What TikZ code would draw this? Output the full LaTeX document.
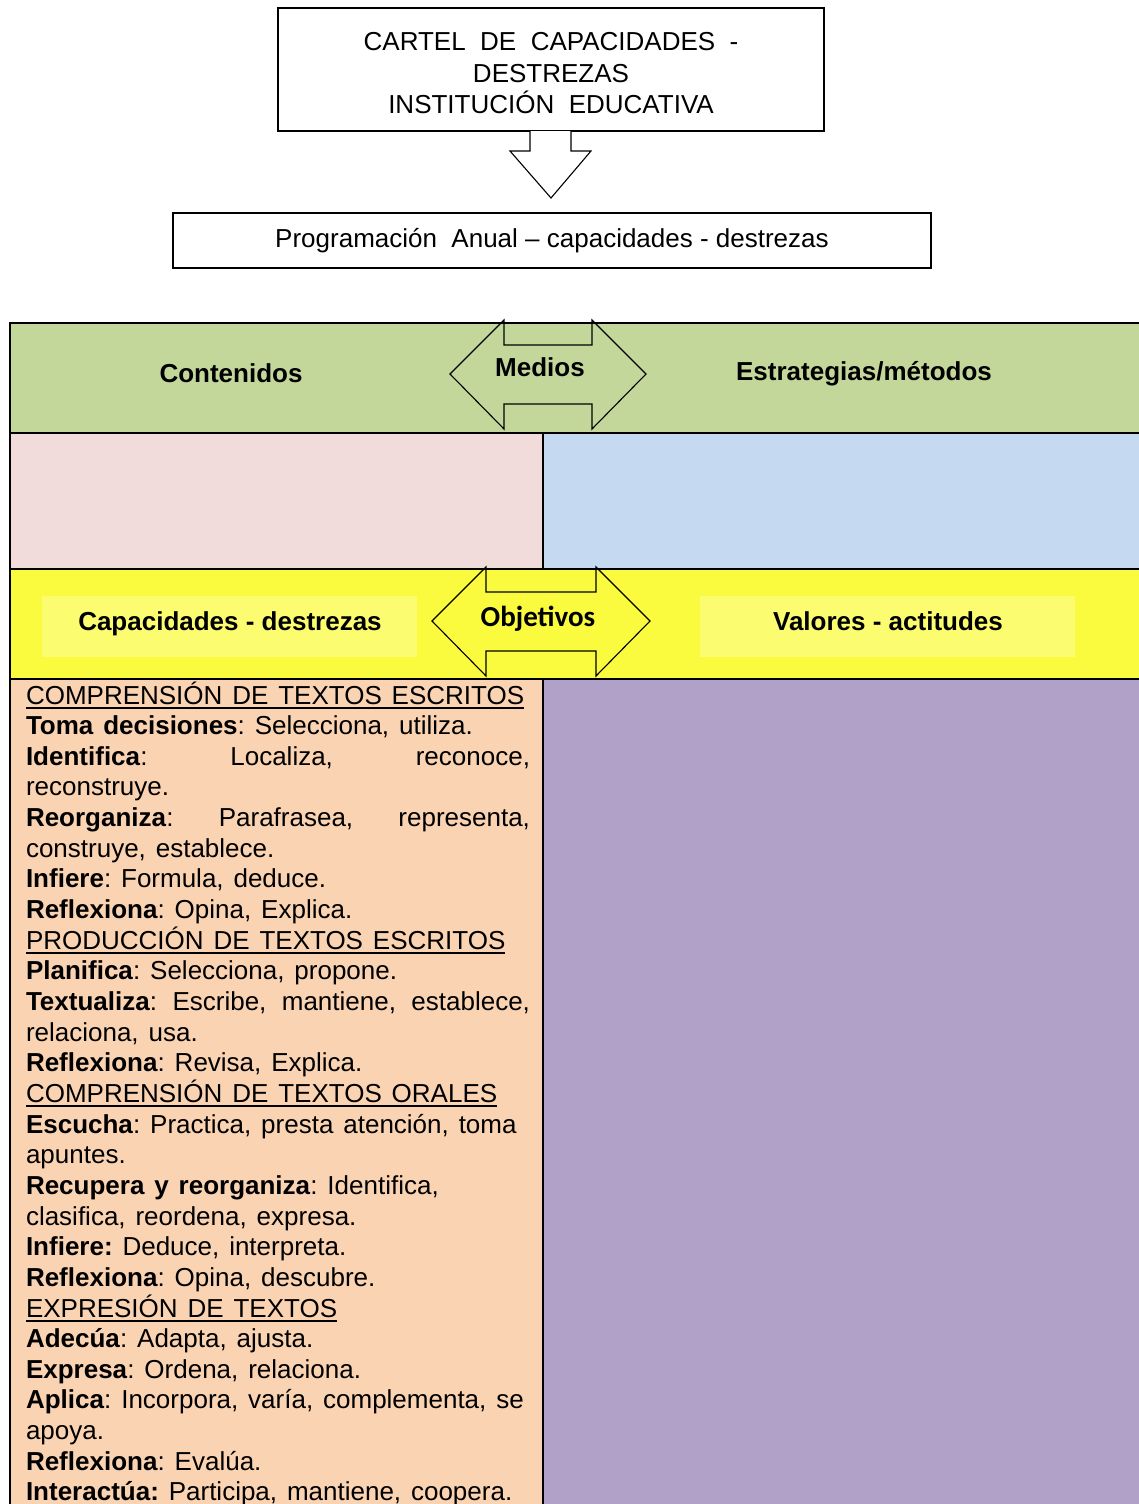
\documentclass[tikz,border=0pt]{standalone}
\usepackage{fontspec}
\setmainfont{Liberation Sans}
\newfontfamily\calfont{Carlito}
\usetikzlibrary{calc}
\definecolor{hdrgreen}{HTML}{C4D79B}
\definecolor{cellpink}{HTML}{F2DCDB}
\definecolor{cellblue}{HTML}{C5D9F1}
\definecolor{rowyellow}{HTML}{FAFA3E}
\definecolor{softyellow}{HTML}{FCFC70}
\definecolor{cellpeach}{HTML}{FAD3B2}
\definecolor{cellpurple}{HTML}{B1A0C7}
\newcommand{\myul}[1]{\leavevmode\setbox0\hbox{#1}\rlap{\rule[-4.5pt]{\wd0}{1.6pt}}\box0}
\newcommand{\jline}[1]{\makebox[504pt][s]{\spaceskip=.38em plus 1em\relax #1}}
\setlength{\parindent}{0pt}
\setlength{\parskip}{0pt}
\begin{document}
\begin{tikzpicture}[x=1pt,y=-1pt,
  txt/.style={font=\fontsize{26}{31.5}\selectfont, inner sep=0pt, outer sep=0pt},
  coltxt/.style={font=\fontsize{26}{30.65}\selectfont\frenchspacing, inner sep=0pt, outer sep=0pt},
  hdr/.style={font=\fontsize{26}{31}\selectfont\bfseries, inner sep=0pt, anchor=base},
  boxline/.style={draw=black, line width=1.4pt},
  gridline/.style={draw=black, line width=2pt},
  blockarrow/.style={draw=black, line width=1.1pt, line join=miter},
]
\useasboundingbox (0,0) rectangle (1139,1504);
\clip (0,0) rectangle (1139,1504);

% ---------- top boxes ----------
\node[boxline, minimum width=546pt, minimum height=123pt, inner sep=0pt, outer sep=0pt, anchor=north west] (cartel) at (278,8) {};
\node[txt, align=center] (carteltext) at (551,73.5) {CARTEL\ \ DE\ \ CAPACIDADES\ \ -\\DESTREZAS\\INSTITUCIÓN\ \ EDUCATIVA};
\node[boxline, minimum width=758pt, minimum height=55pt, inner sep=0pt, outer sep=0pt, anchor=north west] (prog) at (173,213) {};
\node[txt] (progtext) at (552,241) {Programación\ \ Anual -- capacidades - destrezas};

% down block arrow from cartel to prog
\draw[blockarrow, fill=white]
  ($(cartel.south)+(-21,0)$) -- ($(cartel.south)+(-21,20)$) -- ($(cartel.south)+(-41,20)$)
  -- ($(prog.north)+(-1,-15)$)
  -- ($(cartel.south)+(40,20)$) -- ($(cartel.south)+(20,20)$) -- ($(cartel.south)+(20,0)$);

% ---------- table fills ----------
\fill[hdrgreen] (10,323) rectangle (1145,433);
\fill[cellpink] (10,433) rectangle (543,569);
\fill[cellblue] (543,433) rectangle (1145,569);
\fill[rowyellow] (10,569) rectangle (1145,679);
\fill[softyellow] (42,596) rectangle (417,657);
\fill[softyellow] (700,596) rectangle (1075,657);
\fill[cellpeach] (10,679) rectangle (543,1510);
\fill[cellpurple] (543,679) rectangle (1145,1510);

% ---------- grid lines ----------
\draw[gridline] (10,323) -- (1145,323);
\draw[gridline] (10,433) -- (1145,433);
\draw[gridline] (10,569) -- (1145,569);
\draw[gridline] (10,679) -- (1145,679);
\draw[gridline] (10,322) -- (10,1510);
\draw[gridline] (543,433) -- (543,569);
\draw[gridline] (543,679) -- (543,1510);

% ---------- double block arrows ----------
\draw[blockarrow] (450,374) -- (504,320) -- (504,345) -- (592,345) -- (592,320) -- (646,374)
  -- (592,429) -- (592,404) -- (504,404) -- (504,429) -- cycle;
\draw[blockarrow] (432,621) -- (486,567) -- (486,592) -- (596,592) -- (596,567) -- (650,621)
  -- (596,676) -- (596,651) -- (486,651) -- (486,676) -- cycle;

% ---------- header texts ----------
\node[hdr] (contenidos) at (231,382) {Contenidos};
\node[hdr] (medios) at (540,376) {Medios};
\node[hdr] (estrategias) at (864,380) {Estrategias/métodos};
\node[hdr] (capacidades) at (230,630) {Capacidades - destrezas};
\node[font=\fontsize{29}{31}\calfont\bfseries, inner sep=0pt, anchor=base] (objetivos) at (538,626) {Objetivos};
\node[hdr] (valores) at (888,630) {Valores - actitudes};

% ---------- left column text ----------
\node[coltxt, text width=504pt, align=left, anchor=north west] (capacidadestexto) at (26,678) {%
\spaceskip=.38em\relax\frenchspacing
\rule{0pt}{26pt}\myul{COMPRENSIÓN DE TEXTOS ESCRITOS}\\
\textbf{Toma decisiones}: Selecciona, utiliza.\\
\jline{\textbf{Identifica}: Localiza, reconoce,}\\
reconstruye.\\
\jline{\textbf{Reorganiza}: Parafrasea, representa,}\\
construye, establece.\\
\textbf{Infiere}: Formula, deduce.\\
\textbf{Reflexiona}: Opina, Explica.\\
\myul{PRODUCCIÓN DE TEXTOS ESCRITOS}\\
\textbf{Planifica}: Selecciona, propone.\\
\jline{\textbf{Textualiza}: Escribe, mantiene, establece,}\\
relaciona, usa.\\
\textbf{Reflexiona}: Revisa, Explica.\\
\myul{COMPRENSIÓN DE TEXTOS ORALES}\\
\textbf{Escucha}: Practica, presta atención, toma\\
apuntes.\\
\textbf{Recupera y reorganiza}: Identifica,\\
clasifica, reordena, expresa.\\
\textbf{Infiere:} Deduce, interpreta.\\
\textbf{Reflexiona}: Opina, descubre.\\
\myul{EXPRESIÓN DE TEXTOS}\\
\textbf{Adecúa}: Adapta, ajusta.\\
\textbf{Expresa}: Ordena, relaciona.\\
\textbf{Aplica}: Incorpora, varía, complementa, se\\
apoya.\\
\textbf{Reflexiona}: Evalúa.\\
\textbf{Interactúa:} Participa, mantiene, coopera.};
\end{tikzpicture}
\end{document}
